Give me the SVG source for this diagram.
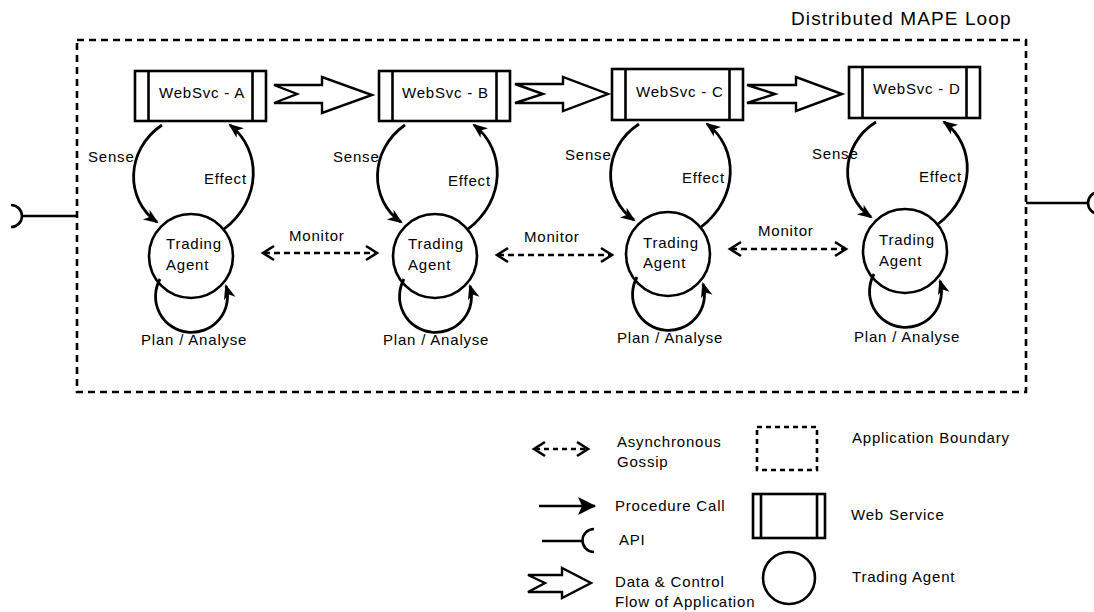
<svg xmlns="http://www.w3.org/2000/svg" width="1094" height="612" viewBox="0 0 1094 612">
<defs>
<style>
text{font-family:"Liberation Sans",Arial,Helvetica,sans-serif;font-size:15px;fill:#000;letter-spacing:0.8px}
.title{font-size:19px;letter-spacing:1.1px}
.box{fill:#fff;stroke:#000;stroke-width:2.6}
.bar{stroke:#000;stroke-width:2.6}
.agent{fill:#fff;stroke:#000;stroke-width:2.6}
.bound{fill:none;stroke:#000;stroke-width:2.6;stroke-dasharray:7 5}
.call{fill:none;stroke:#000;stroke-width:2.8;marker-end:url(#head)}
.gossip{fill:none;stroke:#000;stroke-width:2.6;stroke-dasharray:6 4;marker-start:url(#chev);marker-end:url(#chev)}
.flow{fill:#fff;stroke:#000;stroke-width:2.4;stroke-linejoin:miter}
.api{fill:none;stroke:#000;stroke-width:2.6}
</style>
<marker id="head" markerUnits="userSpaceOnUse" markerWidth="16" markerHeight="14" refX="13" refY="6" orient="auto" overflow="visible">
<path d="M0,0 L15,6 L0,12 L4,6 z" fill="#000"/>
</marker>
<marker id="bighead" markerUnits="userSpaceOnUse" markerWidth="20" markerHeight="20" refX="17" refY="9" orient="auto" overflow="visible">
<path d="M0,0 L18,9 L0,18 L4,9 z" fill="#000"/>
</marker>
<marker id="chev" markerUnits="userSpaceOnUse" markerWidth="14" markerHeight="16" refX="11" refY="7" orient="auto-start-reverse" overflow="visible">
<path d="M1,0 L12,7 L1,14" fill="none" stroke="#000" stroke-width="2.6"/>
</marker>
</defs>
<rect width="1094" height="612" fill="#fff"/>

<g id="boundary">
<rect class="bound" x="77" y="40" width="949" height="352"/>
<text class="title" x="791" y="25">Distributed MAPE Loop</text>
</g>

<g id="websvc-a">
<rect class="box" x="135" y="71" width="131" height="50"/>
<line class="bar" x1="148.5" y1="71" x2="148.5" y2="121"/>
<line class="bar" x1="252.5" y1="71" x2="252.5" y2="121"/>
<text x="159" y="98">WebSvc - A</text>
</g>
<g id="websvc-b">
<rect class="box" x="379" y="71" width="131" height="50"/>
<line class="bar" x1="392.5" y1="71" x2="392.5" y2="121"/>
<line class="bar" x1="496.5" y1="71" x2="496.5" y2="121"/>
<text x="402" y="98">WebSvc - B</text>
</g>
<g id="websvc-c">
<rect class="box" x="612" y="69" width="131" height="51"/>
<line class="bar" x1="625.5" y1="69" x2="625.5" y2="120"/>
<line class="bar" x1="729.5" y1="69" x2="729.5" y2="120"/>
<text x="636" y="97">WebSvc - C</text>
</g>
<g id="websvc-d">
<rect class="box" x="849" y="67" width="131" height="51"/>
<line class="bar" x1="862.5" y1="67" x2="862.5" y2="118"/>
<line class="bar" x1="966.5" y1="67" x2="966.5" y2="118"/>
<text x="873" y="94">WebSvc - D</text>
</g>

<g id="agent-a">
<circle class="agent" cx="191" cy="256" r="42"/>
<text x="166" y="249">Trading</text>
<text x="166" y="270">Agent</text>
</g>
<g id="agent-b">
<circle class="agent" cx="435" cy="256" r="42"/>
<text x="408" y="249">Trading</text>
<text x="408" y="270">Agent</text>
</g>
<g id="agent-c">
<circle class="agent" cx="668" cy="254" r="42"/>
<text x="643" y="248">Trading</text>
<text x="643" y="268">Agent</text>
</g>
<g id="agent-d">
<circle class="agent" cx="905" cy="251" r="42"/>
<text x="879" y="245">Trading</text>
<text x="879" y="266">Agent</text>
</g>

<g id="connectors">
<path class="api" d="M11,205 A11,11 0 0 1 11,227 M22,216 L77,216"/>
<path class="api" d="M1099,192 A11,11 0 0 0 1099,214 M1026,203 L1088,203"/>

<polygon class="flow" points="274,85 322,85 322,77 372,95 322,113 322,103 274,103 297,94"/>
<polygon class="flow" points="515,84 563,84 563,77 608,94 563,111 563,103 515,103 543,94"/>
<polygon class="flow" points="747,85 796,85 796,77 842,94 796,111 796,103 747,103 775,94"/>

<path class="call" d="M162,125 C125,150 125,200 157,222"/>
<path class="call" d="M224,229 C262,200 262,150 230,125"/>
<path class="call" d="M160,279 A36,36 0 1 0 226,286"/>
<text x="88" y="162">Sense</text>
<text x="204" y="184">Effect</text>
<text x="141" y="345">Plan / Analyse</text>

<path class="call" d="M405,125 C369,150 369,200 401,222"/>
<path class="call" d="M468,229 C506,200 506,150 474,125"/>
<path class="call" d="M404,279 A36,36 0 1 0 470,286"/>
<text x="333" y="162">Sense</text>
<text x="448" y="186">Effect</text>
<text x="383" y="345">Plan / Analyse</text>

<path class="call" d="M639,124 C602,148 602,198 634,220"/>
<path class="call" d="M701,227 C739,198 739,148 707,124"/>
<path class="call" d="M637,277 A36,36 0 1 0 703,284"/>
<text x="565" y="160">Sense</text>
<text x="682" y="183">Effect</text>
<text x="617" y="343">Plan / Analyse</text>

<path class="call" d="M876,122 C839,145 839,195 871,217"/>
<path class="call" d="M938,224 C976,195 976,145 944,122"/>
<path class="call" d="M874,274 A36,36 0 1 0 940,281"/>
<text x="812" y="159">Sense</text>
<text x="919" y="182">Effect</text>
<text x="854" y="342">Plan / Analyse</text>

<line class="gossip" x1="264" y1="253" x2="376" y2="253"/>
<line class="gossip" x1="498" y1="255" x2="611" y2="255"/>
<line class="gossip" x1="731" y1="249" x2="845" y2="249"/>
<text x="289" y="241">Monitor</text>
<text x="524" y="242">Monitor</text>
<text x="758" y="236">Monitor</text>
</g>

<g id="legend">
<line x1="535" y1="449" x2="587" y2="449" fill="none" stroke="#000" stroke-width="2.6" stroke-dasharray="5 4" marker-start="url(#chev)" marker-end="url(#chev)"/>
<text x="617" y="447">Asynchronous</text>
<text x="617" y="467">Gossip</text>
<rect x="757" y="427" width="60" height="43" fill="none" stroke="#000" stroke-width="2.6" stroke-dasharray="5 4"/>
<text x="852" y="443">Application Boundary</text>

<line x1="539" y1="506" x2="595" y2="506" stroke="#000" stroke-width="2.4" marker-end="url(#bighead)"/>
<text x="615" y="511">Procedure Call</text>
<path class="api" d="M542,541 L583,541 M594,529 A11.5,11.5 0 0 0 594,552"/>
<text x="619" y="545">API</text>
<polygon class="flow" points="528,575 562,575 562,568 591,583 562,598 562,592 528,592 545,583"/>
<text x="615" y="587">Data &amp; Control</text>
<text x="615" y="607">Flow of Application</text>

<rect class="box" x="753" y="494" width="72" height="44"/>
<line class="bar" x1="761" y1="494" x2="761" y2="538"/>
<line class="bar" x1="817" y1="494" x2="817" y2="538"/>
<text x="851" y="520">Web Service</text>
<circle class="agent" cx="789" cy="578" r="26"/>
<text x="852" y="582">Trading Agent</text>
</g>
</svg>
